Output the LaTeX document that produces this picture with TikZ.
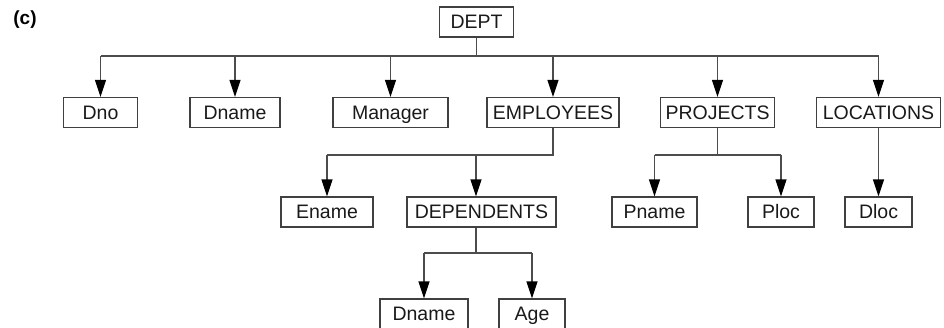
\documentclass[tikz,border=0pt]{standalone}
\usepackage{fontspec}
\setmainfont{Liberation Sans}
\usetikzlibrary{arrows.meta}
\begin{document}
\begin{tikzpicture}[x=1pt,y=-1pt,
  box/.style={draw=black!75, line width=1.3pt, minimum height=30pt, inner sep=0pt, text height=13pt, text depth=0pt, font=\fontsize{19.5}{21}\selectfont, text=black!90},
  conn/.style={draw=black!70, line width=1.3pt},
  arr/.style={conn, -{Triangle[length=17pt,width=11pt,black]}}]
\useasboundingbox (0,0) rectangle (944,327);
\node[font=\bfseries\fontsize{19}{21}\selectfont] (lab) at (25,19.5) {(c)};
\node[box, minimum width=74pt] (dept) at (476.5,22) {DEPT};
\node[box, minimum width=74pt] (dno) at (100.5,112.5) {Dno};
\node[box, minimum width=90pt] (dname) at (235,112.5) {Dname};
\node[box, minimum width=115pt] (mgr) at (390.5,112.5) {Manager};
\node[box, minimum width=132pt] (emp) at (553,112.5) {EMPLOYEES};
\node[box, minimum width=114pt] (proj) at (717.5,112.5) {PROJECTS};
\node[box, minimum width=124pt] (loc) at (878.5,112.5) {LOCATIONS};
\node[box, minimum width=92pt] (ename) at (327,212) {Ename};
\node[box, minimum width=149pt] (dep) at (481.5,212) {DEPENDENTS};
\node[box, minimum width=85pt] (pname) at (654.5,212) {Pname};
\node[box, minimum width=66pt] (ploc) at (781,212) {Ploc};
\node[box, minimum width=67pt] (dloc) at (878.5,212) {Dloc};
\node[box, minimum width=88pt] (dname2) at (424,314) {Dname};
\node[box, minimum width=66pt] (age) at (532,314) {Age};
% level 1
\coordinate (b1) at (476.5,56);
\draw[conn] (dept.south) -- (b1);
\draw[conn] (b1 -| dno.north) -- (b1 -| loc.north);
\foreach \n in {dno,dname,mgr,emp,proj,loc}
  \draw[arr] (b1 -| \n.north) -- (\n.north);
% employees
\coordinate (b2) at (553,155);
\draw[conn] (emp.south) -- (b2) -- (b2 -| ename.north);
\draw[arr] (b2 -| ename.north) -- (ename.north);
\draw[arr] ([xshift=-5.5pt]dep.north |- b2) -- ([xshift=-5.5pt]dep.north);
% projects
\coordinate (b3) at (717.5,155);
\draw[conn] (proj.south) -- (b3);
\draw[conn] (b3 -| pname.north) -- (b3 -| ploc.north);
\draw[arr] (b3 -| pname.north) -- (pname.north);
\draw[arr] (b3 -| ploc.north) -- (ploc.north);
% locations
\draw[arr] (loc.south) -- (dloc.north);
% dependents
\coordinate (b4) at (476,253);
\draw[conn] ([xshift=-5.5pt]dep.south) -- (b4);
\draw[conn] (b4 -| dname2.north) -- (b4 -| age.north);
\draw[arr] (b4 -| dname2.north) -- (dname2.north);
\draw[arr] (b4 -| age.north) -- (age.north);
\end{tikzpicture}
\end{document}
